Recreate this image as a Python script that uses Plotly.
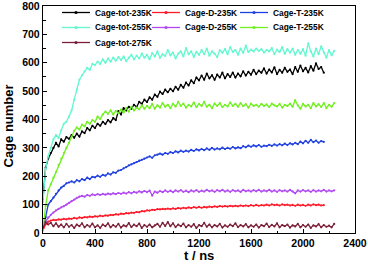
import plotly.graph_objects as go

# ---- data ----
T_STEP = 20
tot235 = [120,230,262,282,300,318,305,330,322,338,332,345,336,350,340,358,352,370,362,378,
          370,385,378,392,384,398,390,405,398,430,418,440,432,445,438,452,444,462,455,470,
          462,478,470,488,480,498,490,505,496,508,500,515,505,522,512,530,520,538,528,548,
          538,555,540,562,545,556,540,558,548,565,545,560,550,565,548,562,552,570,555,568,
          558,575,560,572,565,580,562,576,566,584,560,575,565,582,568,576,560,585,568,590,
          570,582,566,588,572,598,578,585,565]
D235 = [10,30,40,44,46,45,48,47,50,48,51,50,53,51,55,53,56,55,58,56,
        59,58,61,59,62,61,64,63,66,65,68,67,70,69,72,71,74,73,77,76,
        80,79,82,81,84,83,85,84,86,84,87,85,88,86,89,87,90,88,91,89,
        92,89,92,90,93,91,94,92,95,93,95,93,96,94,96,94,97,95,97,95,
        98,96,99,96,98,97,100,97,101,98,100,97,101,98,100,97,99,96,100,97,
        99,96,100,97,101,98,100,97,98]
T235 = [25,55,100,112,125,138,150,160,166,175,178,182,178,186,182,190,186,195,190,198,
        196,202,198,205,202,210,206,214,212,220,222,228,232,238,242,246,250,255,258,262,
        266,270,265,274,276,280,276,282,279,285,282,288,284,290,286,290,287,293,289,295,
        291,296,292,298,293,300,294,298,295,301,296,300,297,303,298,302,299,306,302,308,
        304,309,305,310,304,308,306,311,307,312,308,313,309,315,310,316,312,318,313,322,
        316,325,318,328,320,326,318,324,321]
tot255 = [110,225,270,300,330,345,335,362,385,392,410,432,470,505,540,556,570,582,575,596,
          592,604,596,612,600,615,604,618,607,620,610,622,606,618,628,612,625,615,632,618,
          628,612,634,622,640,618,630,624,645,626,636,615,632,640,622,652,630,640,620,638,
          628,645,630,650,625,640,632,620,644,635,648,630,655,638,645,628,650,635,660,638,
          646,640,650,642,648,636,645,640,652,630,646,638,655,632,648,636,650,628,645,632,
          648,625,668,640,622,650,630,658,636,618,645,626,642]
D255 = [30,42,55,64,72,80,85,90,94,100,106,112,118,124,128,131,128,134,131,136,
        133,137,134,138,135,139,136,140,137,141,138,142,139,144,140,145,142,147,143,148,
        144,149,132,146,142,148,144,150,145,149,144,150,146,151,145,149,144,150,146,151,
        145,149,146,152,147,150,145,151,147,152,146,150,145,151,147,150,145,152,147,150,
        146,151,147,152,146,150,147,152,146,150,145,151,147,150,146,152,147,140,150,146,
        151,147,150,145,151,146,150,147,152,146,150,147,150]
T255 = [10,95,150,172,195,215,240,262,282,300,318,338,360,372,365,382,376,392,385,398,
        392,410,402,418,428,420,432,418,430,422,435,425,440,428,445,432,442,436,450,438,
        448,440,455,438,450,442,458,445,452,440,455,446,462,448,456,442,452,446,460,444,
        455,448,462,445,452,440,456,448,458,444,452,446,460,448,455,445,458,447,454,442,
        456,448,452,445,455,448,453,444,456,450,446,455,442,452,448,456,445,468,450,438,
        455,446,452,440,458,446,454,444,458,440,452,445,458]
tot275 = [18,38,30,36,24,34,22,30,20,32,22,28,18,30,24,34,20,28,22,33,
          20,27,18,30,24,34,20,28,22,32,19,27,23,35,21,30,24,33,18,28,
          22,30,20,27,32,22,36,25,38,24,34,21,30,24,33,20,28,22,31,18,
          28,24,36,22,30,20,28,23,32,19,27,22,30,24,34,21,28,23,31,20,
          27,22,30,19,28,24,33,21,29,23,34,20,28,24,30,19,27,23,32,20,
          28,22,30,18,27,23,31,20,28,22,26,20,32]

names = ["Cage-tot-235K", "Cage-D-235K", "Cage-T-235K",
         "Cage-tot-255K", "Cage-D-255K", "Cage-T-255K", "Cage-tot-275K"]
series = [tot235, D235, T235, tot255, D255, T255, tot275]
colors = ["#000000", "#FF1A2A", "#2040E0", "#62F8D0", "#B048F0", "#70F020", "#7A1F3A"]

x_ticks = [0, 400, 800, 1200, 1600, 2000, 2400]
y_ticks = [0, 100, 200, 300, 400, 500, 600, 700, 800]

FONT = "Liberation Sans, Arial, sans-serif"

# plot area in pixels (for legend placement)
W, H = 368, 266
L, R, TOP, B = 43, 13, 6, 33
PW, PH = W - L - R, H - TOP - B

fig = go.Figure()
for name, vals, col in zip(names, series, colors):
    t = [i * T_STEP for i in range(len(vals))]
    fig.add_trace(go.Scatter(x=t, y=vals, name=name, mode="lines+markers",
                             line=dict(color=col, width=1.3),
                             marker=dict(color=col, size=2.2),
                             showlegend=False, cliponaxis=False, hoverinfo="skip"))

def px2paper(px, py):
    return (px - L) / PW, (H - B - py) / PH

# manual legend (3 columns x 3 rows) like the reference
col_x = [62, 152, 240]
row_y = [12.5, 27.5, 42.5]
order = [(0, 0), (0, 1), (0, 2), (1, 0), (1, 1), (1, 2), (2, 0)]
shapes = []
annotations = []
for (r, c), name, col in zip(order, names, colors):
    x0, yy = px2paper(col_x[c], row_y[r])
    x1, _ = px2paper(col_x[c] + 28, row_y[r])
    shapes.append(dict(type="line", xref="paper", yref="paper", x0=x0, x1=x1, y0=yy, y1=yy,
                       line=dict(color=col, width=1.3)))
    xm = (x0 + x1) / 2
    shapes.append(dict(type="circle", xref="paper", yref="paper", xsizemode="pixel",
                       ysizemode="pixel", xanchor=xm, yanchor=yy, x0=-1.6, x1=1.6,
                       y0=-1.6, y1=1.6, fillcolor=col, line=dict(color=col, width=0)))
    tx, _ = px2paper(col_x[c] + 30.5, row_y[r])
    annotations.append(dict(text=name, xref="paper", yref="paper", x=tx, y=yy,
                            xanchor="left", yanchor="middle", showarrow=False,
                            font=dict(family=FONT, size=8.4, color="black", weight="bold")))

ax, ay = px2paper(7.5, 126)
annotations.append(dict(text="Cage number", xref="paper", yref="paper", x=ax, y=ay,
                        xanchor="center", yanchor="middle", textangle=-90, showarrow=False,
                        font=dict(family=FONT, size=13, color="black", weight="bold")))
bx, by = px2paper(199, 256)
annotations.append(dict(text="t / ns", xref="paper", yref="paper", x=bx, y=by,
                        xanchor="center", yanchor="middle", showarrow=False,
                        font=dict(family=FONT, size=13, color="black", weight="bold")))

axis_common = dict(showgrid=False, zeroline=False, showline=True, linecolor="black",
                   linewidth=1.2, mirror=True, ticks="inside", ticklen=4, tickwidth=1,
                   tickcolor="black", automargin=False, ticklabeloverflow="allow",
                   tickfont=dict(family=FONT, size=10.5, color="black", weight="bold"))

fig.update_layout(
    width=W, height=H,
    margin=dict(l=L, r=R, t=TOP, b=B, pad=0, autoexpand=False),
    paper_bgcolor="white", plot_bgcolor="white",
    xaxis=dict(range=[0, 2400], tickvals=x_ticks, ticktext=[str(v) for v in x_ticks],
               minor=dict(dtick=200, ticks="inside", ticklen=2.5, tickcolor="black"),
               **axis_common),
    yaxis=dict(range=[0, 800], tickvals=y_ticks, ticktext=[str(v) for v in y_ticks],
               minor=dict(dtick=50, ticks="inside", ticklen=2.5, tickcolor="black"),
               **axis_common),
    shapes=shapes, annotations=annotations,
    showlegend=False, hovermode=False,
)

fig.write_html("out.html", config={"displayModeBar": False, "staticPlot": True},
               post_script="document.body.style.margin='0';document.body.style.overflow='hidden';")
